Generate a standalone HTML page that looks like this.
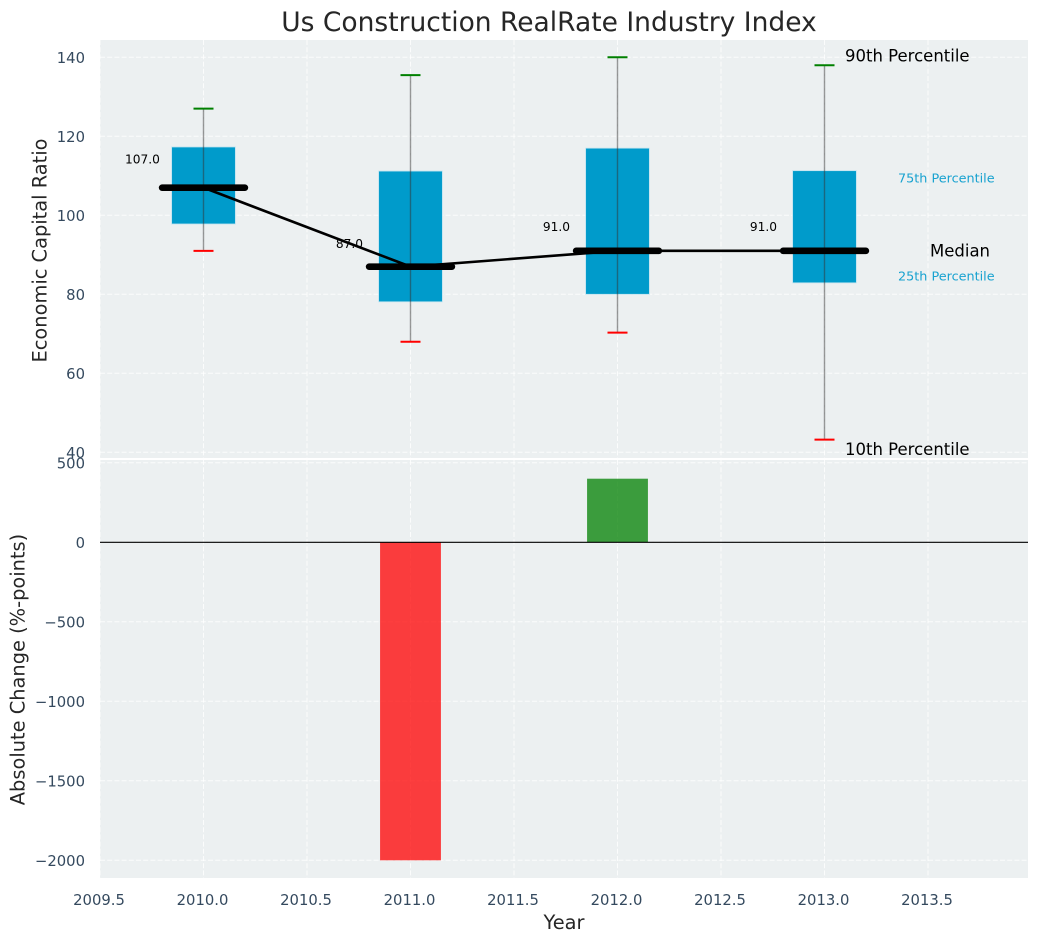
<!DOCTYPE html>
<html>
<head>
<meta charset="utf-8">
<title>Us Construction RealRate Industry Index</title>
<style>
html,body{margin:0;padding:0;background:#fff;}
svg{display:block;font-family:"DejaVu Sans","Liberation Sans",sans-serif;}
</style>
</head>
<body>
<svg id="chart" xmlns="http://www.w3.org/2000/svg" width="1039" height="942" viewBox="0 0 1039 942">
<text x="549" y="31" font-size="26.5" fill="#262626" text-anchor="middle">Us Construction RealRate Industry Index</text>
<rect x="100" y="40" width="928" height="418" fill="#ecf0f1"/>
<rect x="100" y="460" width="928" height="418" fill="#ecf0f1"/>
<g id="top-grid"></g>
<g id="bottom-grid"></g>
<g id="boxes"></g>
<g id="bars"></g>
<g id="labels"></g>
<text x="0" y="0" transform="translate(46.5 250.5) rotate(-90)" font-size="19.4" fill="#262626" text-anchor="middle">Economic Capital Ratio</text>
<text x="0" y="0" transform="translate(24.5 669.5) rotate(-90)" font-size="19.4" fill="#262626" text-anchor="middle">Absolute Change (%-points)</text>
<text x="564" y="929" font-size="19.4" fill="#262626" text-anchor="middle">Year</text>
</svg>
<script>
const years = [2010, 2011, 2012, 2013];
const p10 = [91, 68, 70.3, 43.2];
const p25 = [97.8, 78.1, 80, 82.9];
const medians = [107, 87, 91, 91];
const p75 = [117.3, 111.2, 117, 111.3];
const p90 = [127, 135.5, 140, 138];
const changes = [0, -2000, 400, 0];
const xTicks = [2009.5, 2010, 2010.5, 2011, 2011.5, 2012, 2012.5, 2013, 2013.5];
const topTicks = [40, 60, 80, 100, 120, 140];
const bottomTicks = [500, 0, -500, -1000, -1500, -2000];

const NS = 'http://www.w3.org/2000/svg';
const xScale = v => 203.5 + (v - 2010) * 207;
const yTop = v => 57.3 + (140 - v) * 3.95;
const yBottom = v => 542.3 - v * 0.159;
const fmtX = v => v.toFixed(1);
const fmtY = v => String(v).replace('-', '\u2212');

function make(tag, parentId, props, text) {
  const el = document.createElementNS(NS, tag);
  for (const k in props) el.setAttribute(k, props[k]);
  if (text !== undefined) el.textContent = text;
  document.getElementById(parentId).appendChild(el);
  return el;
}
const gridStyle = {stroke: '#ffffff', 'stroke-opacity': 0.8, 'stroke-width': 1, 'stroke-dasharray': '5 2.2'};

// grid lines
xTicks.forEach(t => {
  const a = make('line', 'top-grid', Object.assign({x1: xScale(t), x2: xScale(t), y1: 40, y2: 458}, gridStyle));
  
  
  const b = make('line', 'bottom-grid', Object.assign({x1: xScale(t), x2: xScale(t), y1: 460, y2: 878}, gridStyle));
  
  
  const lbl = make('text', 'labels', {x: xScale(t) - 1, y: 905, 'font-size': 14.8, fill: '#34495e', 'text-anchor': 'middle'}, fmtX(t));
  
  
});
topTicks.forEach(t => {
  const g = make('line', 'top-grid', Object.assign({x1: 100, x2: 1028, y1: yTop(t), y2: yTop(t)}, gridStyle));
  
  
  const lbl = make('text', 'labels', {x: 85, y: yTop(t) + 5.5, 'font-size': 14.8, fill: '#34495e', 'text-anchor': 'end'}, fmtY(t));
  
  
});
bottomTicks.forEach(t => {
  const g = make('line', 'bottom-grid', Object.assign({x1: 100, x2: 1028, y1: yBottom(t), y2: yBottom(t)}, gridStyle));
  
  
  const lbl = make('text', 'labels', {x: 85, y: yBottom(t) + 5.5, 'font-size': 14.8, fill: '#34495e', 'text-anchor': 'end'}, fmtY(t));
  
  
});

// boxes
years.forEach((yr, i) => {
  const bx = make('rect', 'boxes', {
    x: xScale(yr - 0.154), width: xScale(yr + 0.154) - xScale(yr - 0.154),
    y: yTop(p75[i]), height: yTop(p25[i]) - yTop(p75[i]),
    fill: '#009bcb', stroke: '#bfe3ef', 'stroke-width': 0.8
  });
  
  
});
// whiskers
years.forEach((yr, i) => {
  const w = make('line', 'boxes', {x1: xScale(yr), x2: xScale(yr), y1: yTop(p90[i]), y2: yTop(p10[i]), stroke: '#333333', 'stroke-opacity': 0.5, 'stroke-width': 1.4});
  
  
  const up = make('line', 'boxes', {x1: xScale(yr) - 10, x2: xScale(yr) + 10, y1: yTop(p90[i]), y2: yTop(p90[i]), stroke: '#008000', 'stroke-width': 2});
  
  
  const lo = make('line', 'boxes', {x1: xScale(yr) - 10, x2: xScale(yr) + 10, y1: yTop(p10[i]), y2: yTop(p10[i]), stroke: '#ff0000', 'stroke-width': 2});
  
  
});
// median trend line
const trend = make('polyline', 'boxes', {
  points: years.map((yr, i) => xScale(yr) + ',' + yTop(medians[i])).join(' '),
  fill: 'none', stroke: '#000000', 'stroke-width': 2.6
});


// median markers and value labels
years.forEach((yr, i) => {
  const m = make('line', 'boxes', {x1: xScale(yr - 0.2), x2: xScale(yr + 0.2), y1: yTop(medians[i]), y2: yTop(medians[i]), stroke: '#000000', 'stroke-width': 6.6, 'stroke-linecap': 'round'});
  
  
  const v = make('text', 'boxes', {x: xScale(yr) - 61, y: yTop(medians[i] * 1.068) + 4.5, 'font-size': 12.2, fill: '#000000', 'text-anchor': 'middle'}, medians[i].toFixed(1));
  
  
});
// change bars
years.forEach((yr, i) => {
  if (changes[i] === 0) return;
  const y0 = yBottom(Math.max(changes[i], 0));
  const y1 = yBottom(Math.min(changes[i], 0));
  const r = make('rect', 'bars', {
    x: xScale(yr - 0.147), width: xScale(yr + 0.147) - xScale(yr - 0.147),
    y: y0, height: y1 - y0,
    fill: changes[i] < 0 ? '#ff0000' : '#008000', 'fill-opacity': 0.75
  });
  
  
});
const zero = make('line', 'bars', {x1: 100, x2: 1028, y1: yBottom(0), y2: yBottom(0), stroke: '#000000', 'stroke-width': 1.2});



// series annotations anchored on the last year
const last = years.length - 1;
const lastX = xScale(years[last]);
const a90 = make('text', 'labels', {x: lastX + 20.5, y: yTop(p90[last]) - 3.5, 'font-size': 16.5, fill: '#000000'}, '90th Percentile');


const a10 = make('text', 'labels', {x: lastX + 20.5, y: yTop(p10[last]) + 15.5, 'font-size': 16.5, fill: '#000000'}, '10th Percentile');


const aMed = make('text', 'labels', {x: lastX + 105.5, y: yTop(medians[last]) + 5.5, 'font-size': 16.5, fill: '#000000'}, 'Median');


const a75 = make('text', 'labels', {x: lastX + 73.5, y: yTop(p75[last]) + 12, 'font-size': 12.8, fill: '#0099cc', 'fill-opacity': 0.9}, '75th Percentile');


const a25 = make('text', 'labels', {x: lastX + 73.5, y: yTop(p25[last]) - 2.5, 'font-size': 12.8, fill: '#0099cc', 'fill-opacity': 0.9}, '25th Percentile');


</script>
</body>
</html>
